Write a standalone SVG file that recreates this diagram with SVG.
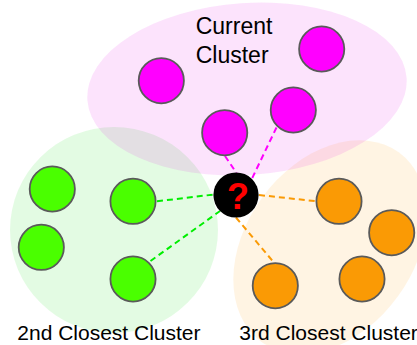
<svg xmlns="http://www.w3.org/2000/svg" width="417" height="345" viewBox="0 0 417 345">
<style>
.bg{stroke:none;fill-opacity:0.11}
.pt{stroke:#5a5a5a;stroke-width:1.8}
.m{fill:#ff00ff}.g{fill:#4aff00}.o{fill:#fa9a05}
.c{fill:none;stroke-width:2;stroke-dasharray:6 4}
.lbl{font-family:"Liberation Sans",Arial,sans-serif;fill:#000}
</style>
<g id="clusters">
<ellipse id="green-cluster" class="bg" fill="#00d800" cx="114" cy="230" rx="104" ry="103"/>
<ellipse id="orange-cluster" class="bg" fill="#ff9900" cx="0" cy="0" rx="117" ry="84" transform="translate(330,247) rotate(-54)"/>
<ellipse id="pink-cluster" class="bg" fill="#e600e6" cx="0" cy="0" rx="160" ry="86" transform="translate(247,89) rotate(-4)"/>
</g>
<g id="connectors">
<line class="c" stroke="#ff00ff" x1="225" y1="156" x2="236.5" y2="173"/>
<line class="c" stroke="#ff00ff" x1="276.5" y1="127.5" x2="252" y2="178.5"/>
<line class="c" stroke="#00ee00" x1="157" y1="201.3" x2="214" y2="194.5"/>
<line class="c" stroke="#00ee00" x1="150.5" y1="261" x2="220" y2="211"/>
<line class="c" stroke="#fa9a05" x1="259" y1="195" x2="316.5" y2="201.3"/>
<line class="c" stroke="#fa9a05" x1="236" y1="217.5" x2="273.5" y2="262"/>
</g>
<g id="m1"><circle class="pt m" cx="161.3" cy="80.7" r="22.6"/></g>
<g id="m2"><circle class="pt m" cx="321.7" cy="49" r="22.6"/></g>
<g id="m3"><circle class="pt m" cx="293.3" cy="110" r="22.6"/></g>
<g id="m4"><circle class="pt m" cx="224.7" cy="132.7" r="22.6"/></g>
<g id="g1"><circle class="pt g" cx="52.3" cy="189" r="22.6"/></g>
<g id="g2"><circle class="pt g" cx="133" cy="201.3" r="22.6"/></g>
<g id="g3"><circle class="pt g" cx="41.3" cy="247.3" r="22.6"/></g>
<g id="g4"><circle class="pt g" cx="133" cy="279" r="22.6"/></g>
<g id="o1"><circle class="pt o" cx="339" cy="201.3" r="22.6"/></g>
<g id="o2"><circle class="pt o" cx="391.7" cy="232.7" r="22.6"/></g>
<g id="o3"><circle class="pt o" cx="362" cy="279" r="22.6"/></g>
<g id="o4"><circle class="pt o" cx="275.3" cy="285.7" r="22.6"/></g>
<g id="query">
<circle cx="236" cy="195" r="22.6" fill="#000"/>
<text x="238" y="208.5" text-anchor="middle" font-family="Liberation Sans,Arial,sans-serif" font-weight="bold" font-size="36" fill="#ff0000">?</text>
</g>
<g id="labels">
<text class="lbl" x="195.7" y="34.3" font-size="23">Current</text>
<text class="lbl" x="195.7" y="62.7" font-size="23">Cluster</text>
<text class="lbl" x="17.3" y="340" font-size="21">2nd Closest Cluster</text>
<text class="lbl" x="239.3" y="340" font-size="21">3rd Closest Cluster</text>
</g>
</svg>
